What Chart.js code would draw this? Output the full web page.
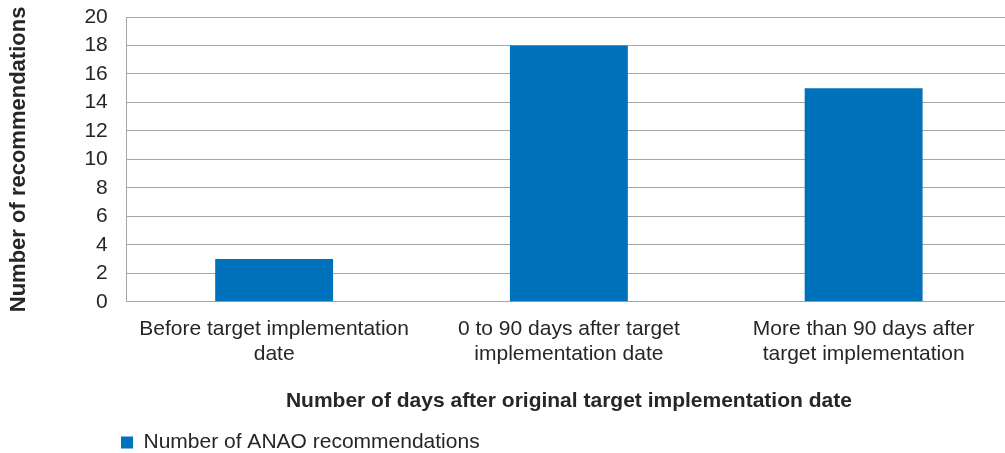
<!DOCTYPE html>
<html>
<head>
<meta charset="utf-8">
<script src="https://cdn.jsdelivr.net/npm/chart.js@4/dist/chart.umd.min.js"></script>
<style>
  html, body { margin: 0; padding: 0; background: #ffffff; overflow: hidden; }
  #wrap { width: 1011px; height: 453px; position: relative; }
</style>
</head>
<body>
<div id="wrap"><canvas id="chart"></canvas></div>
<script>
// Recommendation timing categories (multi-line labels)
const categories = [
  ['Before target implementation', 'date'],
  ['0 to 90 days after target', 'implementation date'],
  ['More than 90 days after', 'target implementation']
];
const seriesName = 'Number of ANAO recommendations';
const recommendationCounts = [3, 18, 15];
const yTickValues = [0, 2, 4, 6, 8, 10, 12, 14, 16, 18, 20];

const FONT = '"Liberation Sans", Arial, sans-serif';
const TEXT = '#262626';
const GRID = '#a6a6a6';

// Move the bottom legend so it lines up with the plot's left edge
const legendShift = {
  id: 'legendShift',
  afterLayout(chart) {
    const lg = chart.legend;
    const w = lg.right - lg.left;
    lg.left = 117;
    lg.right = lg.left + w;
  }
};

new Chart(document.getElementById('chart'), {
  type: 'bar',
  data: {
    labels: categories,
    datasets: [{
      label: seriesName,
      data: recommendationCounts,
      backgroundColor: '#0071bb',
      borderWidth: 0,
      barPercentage: 0.4,
      categoryPercentage: 1.0
    }]
  },
  options: {
    responsive: true,
    maintainAspectRatio: false,
    animation: false,
    layout: { padding: { top: 17, right: 0, bottom: -10, left: 5 } },
    plugins: {
      tooltip: { enabled: false },
      legend: {
        position: 'bottom',
        align: 'start',
        labels: {
          boxWidth: 12,
          boxHeight: 12,
          padding: 4,
          color: TEXT,
          font: { family: FONT, size: 21 }
        }
      }
    },
    scales: {
      x: {
        grid: { display: false, drawTicks: false },
        border: { color: GRID, width: 1 },
        ticks: {
          color: TEXT,
          padding: 15,
          maxRotation: 0,
          autoSkip: false,
          font: { family: FONT, size: 21, lineHeight: 1.19 }
        },
        title: {
          display: true,
          text: 'Number of days after original target implementation date',
          color: TEXT,
          padding: { top: 7, bottom: 14 },
          font: { family: FONT, size: 21, weight: 'bold' }
        }
      },
      y: {
        min: 0,
        max: 20,
        afterBuildTicks(axis) {
          axis.ticks = yTickValues.map(v => ({ value: v }));
        },
        afterFit(axis) {
          // keep the plot top governed by the layout padding alone
          axis.paddingTop = 0;
          axis.paddingBottom = 0;
        },
        grid: { color: GRID, drawTicks: false },
        border: { color: GRID, width: 1 },
        ticks: {
          color: TEXT,
          padding: 19,
          autoSkip: false,
          font: { family: FONT, size: 21 }
        },
        title: {
          display: true,
          text: 'Number of recommendations',
          color: TEXT,
          padding: { top: 1, bottom: 33 },
          font: { family: FONT, size: 22, weight: 'bold' }
        }
      }
    }
  },
  plugins: [legendShift]
});
</script>
</body>
</html>
